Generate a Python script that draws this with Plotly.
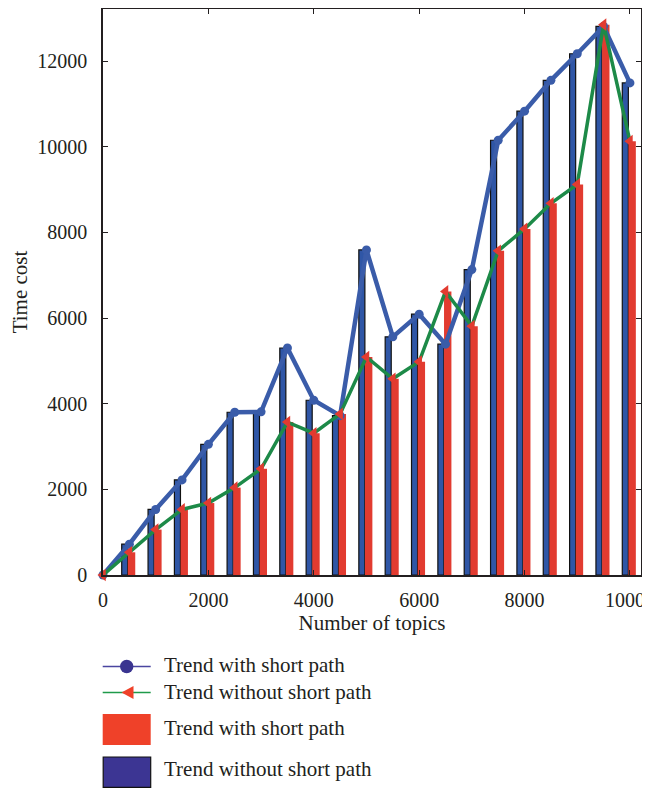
import plotly.graph_objects as go

# ---- data ----
topics = [0, 500, 1000, 1500, 2000, 2500, 3000, 3500, 4000, 4500, 5000,
          5500, 6000, 6500, 7000, 7500, 8000, 8500, 9000, 9500, 10000]
with_short = [0, 720, 1530, 2220, 3050, 3800, 3810, 5300, 4080, 3720, 7590,
              5560, 6090, 5390, 7130, 10150, 10830, 11550, 12170, 12810, 11490]
without_short = [0, 530, 1060, 1530, 1680, 2040, 2480, 3570, 3310, 3760, 5090,
                 4580, 4980, 6620, 5810, 7570, 8080, 8680, 9120, 12850, 10130]
x_ticks = [0, 2000, 4000, 6000, 8000, 10000]
x_ticktext = ["0", "2000", "4000", "6000", "8000", "10000"]
y_ticks = [0, 2000, 4000, 6000, 8000, 10000, 12000]
y_ticktext = ["0", "2000", "4000", "6000", "8000", "10000", "12000"]

legend_labels = ["Trend with short path", "Trend without short path",
                 "Trend with short path", "Trend without short path"]

FONT = "Liberation Serif"
OFF = 8  # page body margin
W, H = 650 - OFF, 788 - OFF
L, R, T = 103 - OFF, 9, 1
B = H - (575 - OFF)
PW, PH = W - L - R, H - T - B

fig = go.Figure()

fig.add_trace(go.Bar(x=topics[1:], y=with_short[1:], width=115, offset=-145,
                     marker=dict(color="#2f56a6", line=dict(color="#111111", width=1.2)),
                     showlegend=False))
fig.add_trace(go.Bar(x=topics[1:], y=without_short[1:], width=140, offset=-28,
                     marker=dict(color="#e23b30", line=dict(width=0)),
                     showlegend=False))
fig.add_trace(go.Scatter(x=topics, y=with_short, mode="lines+markers",
                         line=dict(color="#3a5ca9", width=4.5),
                         marker=dict(symbol="circle", size=9, color="#3a5ca9"),
                         cliponaxis=False, showlegend=False))
fig.add_trace(go.Scatter(x=topics, y=without_short, mode="lines+markers",
                         line=dict(color="#1d8a48", width=3.5),
                         marker=dict(symbol="triangle-left", size=11, color="#e23b30"),
                         cliponaxis=False, showlegend=False))

# ---- custom legend below plot (screen pixel -> paper helpers) ----
def px(xs):
    return (xs - OFF - L) / PW

def py(ys):
    return (H - B - (ys - OFF)) / PH

shapes = []
annotations = []
# row 1: line + circle
shapes.append(dict(type="line", xref="paper", yref="paper", x0=px(102.7), x1=px(150.7),
                   y0=py(666.5), y1=py(666.5), line=dict(color="#4a45a0", width=1.5)))
shapes.append(dict(type="circle", xref="paper", yref="paper", x0=px(120), x1=px(133.4),
                   y0=py(673.2), y1=py(659.8), fillcolor="#3a3490", line=dict(width=0)))
# row 2: line + left triangle
shapes.append(dict(type="line", xref="paper", yref="paper", x0=px(102.7), x1=px(150.7),
                   y0=py(692.5), y1=py(692.5), line=dict(color="#1f9a4a", width=1.5)))
shapes.append(dict(type="path", xref="paper", yref="paper",
                   path=f"M {px(121.5)} {py(692.5)} L {px(133.5)} {py(686)} L {px(133.5)} {py(699)} Z",
                   fillcolor="#ef4129", line=dict(width=0)))
# row 3: red rect
shapes.append(dict(type="rect", xref="paper", yref="paper", x0=px(102.7), x1=px(150.7),
                   y0=py(745), y1=py(714), fillcolor="#ef4129", line=dict(width=0)))
# row 4: blue rect with border
shapes.append(dict(type="rect", xref="paper", yref="paper", x0=px(103.2), x1=px(150.7),
                   y0=py(787.3), y1=py(757), fillcolor="#3c3593", line=dict(color="#111111", width=1.2)))

for label, yc in zip(legend_labels, [665, 691.5, 727.5, 769]):
    annotations.append(dict(text=label, xref="paper", yref="paper", x=px(162), y=py(yc),
                            xanchor="left", yanchor="middle", showarrow=False,
                            font=dict(family=FONT, size=21, color="#231f20")))

fig.update_layout(
    width=W, height=H,
    margin=dict(l=L, r=R, t=T, b=B, autoexpand=False),
    paper_bgcolor="white", plot_bgcolor="white",
    barmode="overlay",
    font=dict(family=FONT, size=20, color="#231f20"),
    shapes=shapes, annotations=annotations,
    xaxis=dict(range=[0, 10210], tickvals=x_ticks, ticktext=x_ticktext,
               ticks="inside", ticklen=5, tickwidth=1.3, tickcolor="#231f20",
               showline=True, linecolor="#231f20", linewidth=1.5, mirror="ticks",
               showgrid=False, zeroline=False, automargin=False,
               ticklabelstandoff=6, ticklabeloverflow="allow",
               title=dict(text="Number of topics", standoff=6,
                          font=dict(family=FONT, size=21))),
    yaxis=dict(range=[0, 13215], tickvals=y_ticks, ticktext=y_ticktext,
               ticks="inside", ticklen=5, tickwidth=1.3, tickcolor="#231f20",
               showline=True, linecolor="#231f20", linewidth=1.5, mirror="ticks",
               showgrid=False, zeroline=False, automargin=False,
               ticklabelstandoff=10, ticklabeloverflow="allow",
               title=dict(text="Time cost", standoff=8,
                          font=dict(family=FONT, size=21))),
)

fig.write_html("out.html")
